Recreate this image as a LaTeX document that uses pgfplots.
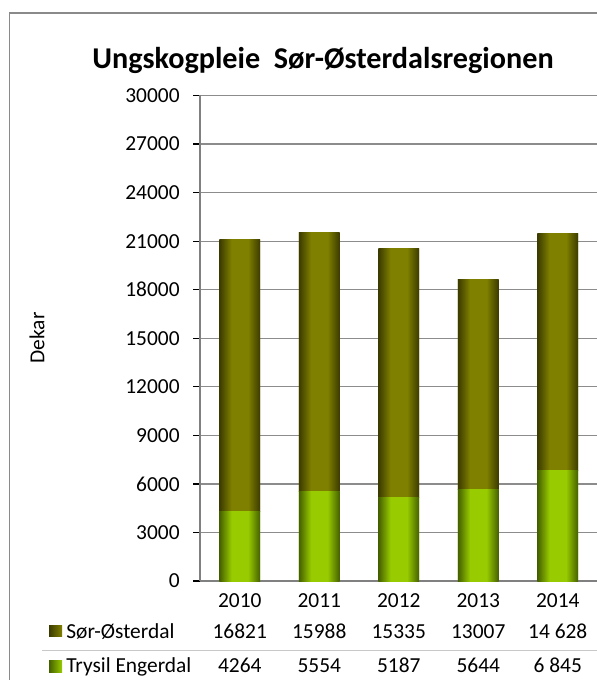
\documentclass[border=0pt]{standalone}
\usepackage{fontspec}
\setmainfont{Carlito}
\usepackage{pgfplots}
\pgfplotsset{compat=1.18}

\definecolor{olivedark}{HTML}{3B3B00}
\definecolor{olivemid}{HTML}{808000}
\definecolor{greendark}{HTML}{456000}
\definecolor{greenmid}{HTML}{99CC00}
\definecolor{gridgray}{HTML}{8C8C8C}
\definecolor{framegray}{HTML}{8A8A8A}
\definecolor{sepgray}{HTML}{C8C8C8}

\pgfdeclarehorizontalshading{oliveshade}{100bp}{color(0bp)=(olivedark); color(25bp)=(olivedark); color(40bp)=(olivemid); color(60bp)=(olivemid); color(75bp)=(olivedark); color(100bp)=(olivedark)}
\pgfdeclarehorizontalshading{greenshade}{100bp}{color(0bp)=(greendark); color(25bp)=(greendark); color(40bp)=(greenmid); color(60bp)=(greenmid); color(75bp)=(greendark); color(100bp)=(greendark)}

\newcommand{\tabfont}{\fontsize{10.7}{12}\selectfont}

% each bar is redrawn as its own shaded node (centred on its segment), so that the shading is per bar
% (height in pt = value * 242.75pt / 30000)
\pgfplotsset{
  shadedbar/.style={
    nodes near coords={},
    visualization depends on={rawy \as \rawy},
    every node near coord/.append style={
      /utils/exec={\begingroup
        \pgfkeys{/pgf/fpu=true,/pgf/fpu/output format=fixed}%
        \pgfmathparse{\rawy*0.0080917}\xdef\barh{\pgfmathresult}\endgroup},
      shade, shading=#1, draw=none, inner sep=0pt, outer sep=0pt,
      minimum width=20.35pt, minimum height=\barh pt,
      anchor=center, yshift=0pt},
  },
}

\begin{document}
\begin{tikzpicture}[x=0.5pt, y=0.5pt]
% chart frame
\draw[framegray, line width=0.65pt] (9.5,-10) -- (9.5,667) -- (610,667);

\begin{axis}[
    at={(100pt,49.5pt)}, anchor=south west,
    scale only axis, width=198.75pt, height=242.75pt,
    ybar stacked, bar width=20.35pt,
    xmin=-0.5, xmax=4.5, ymin=0, ymax=30000,
    xtick=data, xticklabels={2010,2011,2012,2013,2014},
    ytick distance=3000, scaled y ticks=false,
    axis x line=bottom, axis y line=left,
    axis line style={draw=gray, line width=0.6pt, -},
    ymajorgrids, grid style={gridgray, line width=0.6pt},
    tick align=outside, major tick length=3.3pt,
    major x tick style={draw=none},
    ytick style={black, line width=0.6pt},
    /pgf/number format/1000 sep={},
    /pgf/number format/assume math mode=true,
    ticklabel style={font=\tabfont},
    yticklabel style={anchor=east, inner sep=0pt, xshift=-6.7pt},
    xticklabel style={anchor=base, inner sep=0pt, yshift=-10pt},
    clip=false,
]
\addplot[draw=none, fill=greenmid, shadedbar=greenshade] coordinates {(0,4264) (1,5554) (2,5187) (3,5644) (4,6845)};
\addplot[draw=none, fill=olivemid, shadedbar=oliveshade] coordinates {(0,16821) (1,15988) (2,15335) (3,13007) (4,14628)};
\end{axis}

% title and y label
\node[font=\fontsize{15.1}{18}\selectfont\bfseries] at (323,620) {Ungskogpleie\ \ Sør-Østerdalsregionen};
\node[font=\tabfont, rotate=90] at (37,342) {Dekar};

% data table below the axis
\draw[sepgray, line width=0.75pt] (42,29.5) -- (610,29.5);
\shade[left color=olivedark, right color=olivemid] (49,43) rectangle (62,54);
\shade[left color=greendark, right color=greenmid] (49,7) rectangle (62,19);
\node[font=\tabfont, anchor=base west, inner sep=0pt] at (66,41.5) {Sør-Østerdal};
\node[font=\tabfont, anchor=base west, inner sep=0pt] at (66,7.5) {Trysil Engerdal};
\foreach \v [count=\i from 0] in {16821,15988,15335,13007,14 628}
  \node[font=\tabfont, anchor=base, inner sep=0pt] at ({239.75+79.5*\i},41.5) {\v};
\foreach \v [count=\i from 0] in {4264,5554,5187,5644,6 845}
  \node[font=\tabfont, anchor=base, inner sep=0pt] at ({239.75+79.5*\i},7.5) {\v};

\pgfresetboundingbox
\useasboundingbox (0,0) rectangle (597,680);
\end{tikzpicture}
\end{document}
